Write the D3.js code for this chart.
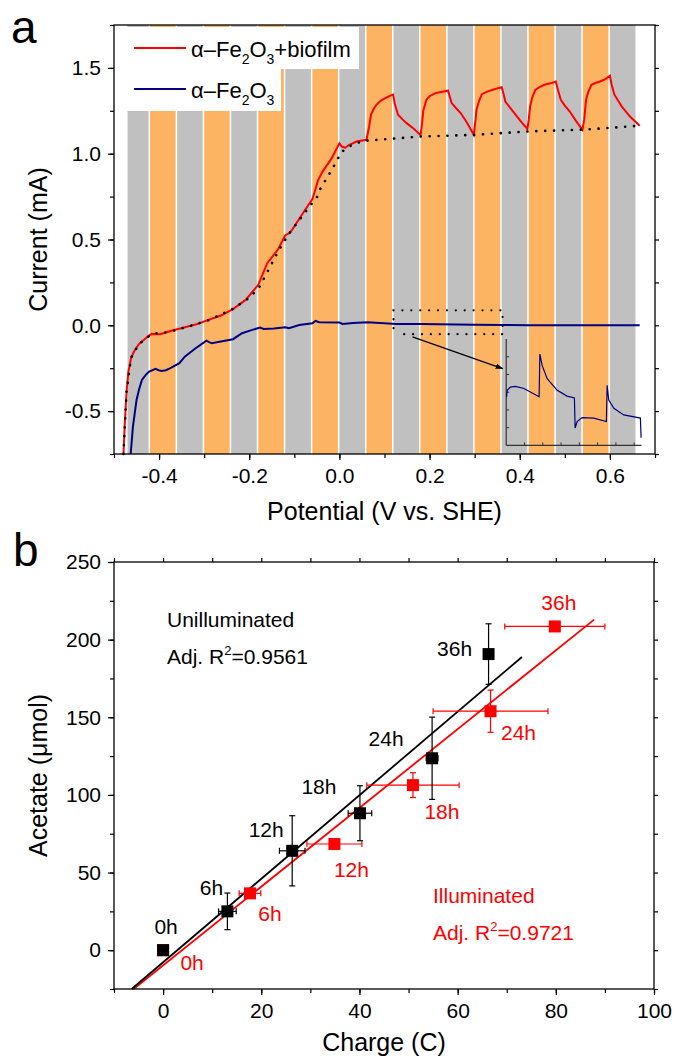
<!DOCTYPE html>
<html>
<head>
<meta charset="utf-8">
<script src="https://cdn.jsdelivr.net/npm/d3@7"></script>
<style>
body { margin: 0; background: #fff; }
text { font-family: "Liberation Sans", Arial, sans-serif; }
</style>
</head>
<body>
<div id="chart"></div>
<script>
// ---------- panel a data ----------
// potential (V) where illumination toggles, starting with a dark (grey) period
var stripeEdges = [-0.47,-0.42,-0.36,-0.30,-0.24,-0.18,-0.12,-0.06,0,0.06,0.12,0.18,0.24,0.30,0.36,0.42,0.48,0.54,0.60,0.66];

// alpha-Fe2O3 + biofilm, [potential V, current mA]
var biofilm = [[-0.479,-0.75],[-0.476,-0.57],[-0.472,-0.38],[-0.468,-0.27],[-0.462,-0.19],[-0.455,-0.15],[-0.445,-0.11],
  [-0.434,-0.085],[-0.424,-0.063],[-0.416,-0.05],[-0.405,-0.052],[-0.398,-0.052],[-0.385,-0.042],[-0.375,-0.033],
  [-0.351,-0.017],[-0.33,-0.003],[-0.315,0.008],[-0.295,0.027],[-0.263,0.057],[-0.236,0.094],[-0.208,0.148],
  [-0.18,0.236],[-0.17,0.30],[-0.16,0.362],[-0.136,0.443],[-0.12,0.525],[-0.112,0.535],[-0.105,0.556],[-0.081,0.653],
  [-0.06,0.735],[-0.047,0.848],[-0.037,0.897],[-0.017,0.974],[0.0,1.06],[0.006,1.04],[0.013,1.035],[0.022,1.052],
  [0.038,1.071],[0.06,1.081],
  [0.066,1.16],[0.07,1.227],[0.076,1.26],[0.082,1.285],[0.092,1.31],[0.102,1.324],[0.112,1.337],[0.119,1.344],
  [0.123,1.29],[0.13,1.227],[0.14,1.2],[0.149,1.178],[0.165,1.145],[0.18,1.108],
  [0.183,1.17],[0.186,1.25],[0.193,1.315],[0.2,1.335],[0.213,1.353],[0.225,1.36],[0.241,1.367],
  [0.245,1.33],[0.249,1.295],[0.259,1.265],[0.269,1.237],[0.283,1.18],[0.298,1.11],
  [0.302,1.2],[0.304,1.256],[0.31,1.31],[0.316,1.347],[0.328,1.362],[0.34,1.373],[0.36,1.388],
  [0.364,1.35],[0.368,1.304],[0.378,1.27],[0.388,1.237],[0.402,1.19],[0.417,1.143],
  [0.42,1.2],[0.423,1.276],[0.428,1.33],[0.435,1.373],[0.445,1.39],[0.455,1.402],[0.468,1.41],[0.48,1.421],
  [0.485,1.37],[0.491,1.314],[0.5,1.28],[0.511,1.246],[0.525,1.19],[0.539,1.139],
  [0.543,1.2],[0.547,1.314],[0.552,1.36],[0.559,1.402],[0.568,1.412],[0.578,1.421],[0.59,1.435],[0.6,1.454],
  [0.604,1.4],[0.61,1.344],[0.618,1.31],[0.626,1.276],[0.645,1.215],[0.666,1.163]];

// dark-current baseline of the biofilm electrode (dotted)
var biofilmDark = [[-0.479,-0.75],[-0.472,-0.38],[-0.462,-0.19],[-0.445,-0.11],[-0.416,-0.05],[-0.38,-0.04],
  [-0.33,-0.003],[-0.29,0.03],[-0.24,0.09],[-0.2,0.16],[-0.178,0.22],[-0.168,0.27],[-0.15,0.36],[-0.136,0.43],
  [-0.113,0.53],[-0.09,0.61],[-0.07,0.68],[-0.049,0.75],[-0.042,0.797],[-0.03,0.849],[-0.018,0.901],
  [-0.007,0.953],[0.004,1.008],[0.02,1.04],[0.041,1.064],[0.061,1.076],[0.18,1.1],[0.3,1.11],[0.42,1.13],
  [0.54,1.14],[0.666,1.163]];

// bare alpha-Fe2O3
var bare = [[-0.463,-0.75],[-0.458,-0.59],[-0.45,-0.435],[-0.444,-0.37],[-0.438,-0.318],[-0.43,-0.29],
  [-0.422,-0.27],[-0.408,-0.254],[-0.401,-0.262],[-0.394,-0.266],[-0.385,-0.262],[-0.375,-0.25],[-0.355,-0.221],
  [-0.343,-0.183],[-0.319,-0.134],[-0.295,-0.089],[-0.289,-0.098],[-0.283,-0.105],[-0.263,-0.095],
  [-0.236,-0.081],[-0.216,-0.046],[-0.195,-0.028],[-0.176,-0.013],[-0.168,-0.021],[-0.145,-0.018],
  [-0.12,-0.011],[-0.112,-0.017],[-0.089,0.002],[-0.06,0.012],[-0.053,0.026],[-0.045,0.018],[0.0,0.016],
  [0.007,0.008],[0.03,0.014],[0.062,0.018],[0.09,0.013],[0.126,0.008],[0.18,0.008],[0.26,0.004],[0.3,0.003],
  [0.36,0.002],[0.42,0.001],[0.54,0.0],[0.666,0.0]];

// inset: zoom of bare electrode between 0.12 and 0.36 V (arbitrary units)
var insetCurve = [[0.02,2.74],[0.05,3.11],[0.23,3.29],[0.51,3.33],[0.97,3.21],[1.80,2.74],[1.84,5.15],[1.97,4.5],
  [2.24,3.76],[2.79,3.11],[3.33,2.78],[3.73,2.68],[3.77,0.98],[3.88,1.35],[4.15,1.57],[4.79,1.54],[5.48,1.35],
  [5.52,3.39],[5.61,2.56],[5.89,2.09],[6.43,1.72],[7.34,1.54],[7.38,0.43]];

var xTicksA = [-0.4,-0.2,0.0,0.2,0.4,0.6];
var yTicksA = [-0.5,0.0,0.5,1.0,1.5];

// ---------- panel b data ----------
var hours = ["0h","6h","12h","18h","24h","36h"];
var darkCharge = [0,13.1,26.3,40.1,54.8,66.3];
var darkChargeErr = [0,1.8,2.6,2.4,1.2,0.5];
var darkAcetate = [0,25,64,88.2,123.6,190.7];
var darkAcetateErr = [0,11.8,22.6,17.7,26.5,19.5];
var lightCharge = [0,17.7,34.9,50.9,66.7,79.8];
var lightChargeErr = [0,2.2,5.6,9.4,11.7,10.2];
var lightAcetate = [0,36.6,68.4,106.3,153.9,208.5];
var lightAcetateErr = [0,2,2,8,13.6,2];
// linear fits: [slope, intercept, xStart, xEnd]
var darkFit = [2.69,-7.8,-6.4,73.1];
var lightFit = [2.536,-9.8,-6.0,87.8];
var xTicksB = [0,20,40,60,80,100];
var yTicksB = [0,50,100,150,200,250];

// ---------- drawing ----------
var svg = d3.select("#chart").append("svg")
    .attr("width", 677)
    .attr("height", 1060);

var RED = "#ff0000", NAVY = "#000080";

function styleAxis(g) {
  g.select(".domain").remove();
  g.selectAll("line").attr("stroke", "#000").attr("stroke-width", 1.2);
  g.selectAll("text").attr("font-size", 21).attr("fill", "#000")
    .attr("font-family", '"Liberation Sans", Arial, sans-serif');
}

// ===== panel a =====
var xa = d3.scaleLinear().domain([-0.5, 0.7]).range([114, 655]);
var ya = d3.scaleLinear().domain([-0.75, 1.75]).range([454, 25]);

var pa = svg.append("g");

// illumination stripes
stripeEdges.slice(0, -1).forEach(function(s, i) {
  pa.append("rect")
    .attr("x", xa(s))
    .attr("y", ya(1.75))
    .attr("width", xa(stripeEdges[i + 1]) - xa(s) - 1.5)
    .attr("height", ya(-0.75) - ya(1.75))
    .attr("fill", i % 2 == 0 ? "#c0c0c0" : "#fdb462");
});

var lineA = d3.line().x(function(d){ return xa(d[0]) }).y(function(d){ return ya(d[1]) });

pa.append("path").datum(biofilm).attr("d", lineA)
  .attr("fill", "none").attr("stroke", RED).attr("stroke-width", 2);
pa.append("path").datum(biofilmDark).attr("d", lineA)
  .attr("fill", "none").attr("stroke", "#000").attr("stroke-width", 2.6)
  .attr("stroke-linecap", "round").attr("stroke-dasharray", "0.1,8.8");
pa.append("path").datum(bare).attr("d", lineA)
  .attr("fill", "none").attr("stroke", NAVY).attr("stroke-width", 2);

// dotted zoom box
var zb = d3.path();
zb.moveTo(xa(0.12), ya(-0.017)); zb.lineTo(xa(0.12), ya(0.087)); zb.lineTo(xa(0.362), ya(0.087));
zb.lineTo(xa(0.362), ya(-0.052)); zb.lineTo(xa(0.135), ya(-0.052));
pa.append("path").attr("d", zb.toString()).attr("fill", "none").attr("stroke", "#000")
  .attr("stroke-width", 2.2).attr("stroke-linecap", "round").attr("stroke-dasharray", "0.1,8.8");

// arrow
svg.append("defs").append("marker").attr("id", "arr")
  .attr("viewBox", "0 0 10 10").attr("refX", 9).attr("refY", 5)
  .attr("markerWidth", 6).attr("markerHeight", 6).attr("orient", "auto")
  .append("path").attr("d", "M0,1.5L10,5L0,8.5z").attr("fill", "#000");
pa.append("line").attr("x1", xa(0.162)).attr("y1", ya(-0.068))
  .attr("x2", xa(0.362)).attr("y2", ya(-0.252))
  .attr("stroke", "#000").attr("stroke-width", 1.3).attr("marker-end", "url(#arr)");

// inset
var xi = d3.scaleLinear().domain([0, 7.4]).range([xa(0.37), xa(0.67)]);
var yi = d3.scaleLinear().domain([0, 6]).range([ya(-0.70), ya(-0.08)]);
var ins = pa.append("g");
ins.append("line").attr("x1", xi(0)).attr("x2", xi(0)).attr("y1", yi(0)).attr("y2", yi(6))
  .attr("stroke", "#333").attr("stroke-width", 1.2);
ins.append("line").attr("x1", xi(0)).attr("x2", xi(7.4)).attr("y1", yi(0)).attr("y2", yi(0))
  .attr("stroke", "#333").attr("stroke-width", 1.2);
d3.range(1, 6).forEach(function(v) {
  ins.append("line").attr("x1", xi(0)).attr("x2", xi(0) + 3).attr("y1", yi(v)).attr("y2", yi(v))
    .attr("stroke", "#333").attr("stroke-width", 1);
});
d3.range(1, 8).forEach(function(u) {
  ins.append("line").attr("x1", xi(u)).attr("x2", xi(u)).attr("y1", yi(0)).attr("y2", yi(0) - 3)
    .attr("stroke", "#333").attr("stroke-width", 1);
});
ins.append("path").datum(insetCurve)
  .attr("d", d3.line().x(function(d){ return xi(d[0]) }).y(function(d){ return yi(d[1]) }))
  .attr("fill", "none").attr("stroke", NAVY).attr("stroke-width", 1.2);

// legend
var leg = pa.append("g");
leg.append("rect").attr("x", 126).attr("y", 27).attr("width", 233).attr("height", 42).attr("fill", "#fff");
leg.append("rect").attr("x", 126).attr("y", 69).attr("width", 155).attr("height", 42).attr("fill", "#fff");
[[RED, 48, "+biofilm"], [NAVY, 89, ""]].forEach(function(r) {
  leg.append("line").attr("x1", 134).attr("x2", 186).attr("y1", r[1]).attr("y2", r[1])
    .attr("stroke", r[0]).attr("stroke-width", 2);
  var t = leg.append("text").attr("x", 191).attr("y", r[1] + 9).attr("font-size", 22);
  t.append("tspan").text("α–Fe");
  t.append("tspan").attr("font-size", 14).attr("dy", 7).text("2");
  t.append("tspan").attr("dy", -7).text("O");
  t.append("tspan").attr("font-size", 14).attr("dy", 7).text("3");
  t.append("tspan").attr("dy", -7).text(r[2]);
});

// axes a
pa.append("rect").attr("x", xa(-0.5)).attr("y", ya(1.75))
  .attr("width", xa(0.7) - xa(-0.5)).attr("height", ya(-0.75) - ya(1.75))
  .attr("fill", "none").attr("stroke", "#000").attr("stroke-width", 1.3);

pa.append("g").attr("transform", "translate(0," + ya(-0.75) + ")")
  .call(d3.axisBottom(xa).tickValues(d3.range(-5, 8).map(function(d){ return d / 10 }))
    .tickSize(4).tickFormat(""))
  .call(styleAxis);
pa.append("g").attr("transform", "translate(0," + ya(-0.75) + ")")
  .call(d3.axisBottom(xa).tickValues(xTicksA).tickSize(6).tickPadding(8)
    .tickFormat(function(d){ return d.toFixed(1) }))
  .call(styleAxis);
pa.append("g").attr("transform", "translate(" + xa(-0.5) + ",0)")
  .call(d3.axisLeft(ya).tickValues(d3.range(-3, 8).map(function(d){ return d / 4 }))
    .tickSize(4).tickFormat(""))
  .call(styleAxis);
pa.append("g").attr("transform", "translate(" + xa(-0.5) + ",0)")
  .call(d3.axisLeft(ya).tickValues(yTicksA).tickSize(6).tickPadding(7)
    .tickFormat(function(d){ return d.toFixed(1) }))
  .call(styleAxis);
pa.append("g").attr("transform", "translate(" + xa(0.7) + ",0)")
  .call(d3.axisRight(ya).tickValues(d3.range(-3, 8).map(function(d){ return d / 4 }))
    .tickSize(4).tickFormat(""))
  .call(styleAxis);

pa.append("text").attr("x", (xa(-0.5) + xa(0.7)) / 2).attr("y", 520)
  .attr("text-anchor", "middle").attr("font-size", 25).text("Potential (V vs. SHE)");
pa.append("text").attr("transform", "translate(47," + (ya(-0.75) + ya(1.75)) / 2 + ") rotate(-90)")
  .attr("text-anchor", "middle").attr("font-size", 25).text("Current (mA)");
svg.append("text").attr("x", 11).attr("y", 43).attr("font-size", 46).text("a");

// ===== panel b =====
var xb = d3.scaleLinear().domain([-10, 100]).range([114, 654]);
var yb = d3.scaleLinear().domain([-25, 250]).range([989, 562]);
var pb = svg.append("g");

function fitLine(f, color) {
  pb.append("line")
    .attr("x1", xb(f[2])).attr("y1", yb(f[0] * f[2] + f[1]))
    .attr("x2", xb(f[3])).attr("y2", yb(f[0] * f[3] + f[1]))
    .attr("stroke", color).attr("stroke-width", 1.8);
}
fitLine(lightFit, RED);
fitLine(darkFit, "#000");

function series(xs, xe, ys, ye, color) {
  var g = pb.append("g").attr("stroke", color).attr("stroke-width", 1.2);
  xs.forEach(function(x, i) {
    var cx = xb(x), cy = yb(ys[i]);
    if (ye[i] > 0) {
      g.append("line").attr("x1", cx).attr("x2", cx).attr("y1", yb(ys[i] - ye[i])).attr("y2", yb(ys[i] + ye[i]));
      [ys[i] - ye[i], ys[i] + ye[i]].forEach(function(v) {
        g.append("line").attr("x1", cx - 3).attr("x2", cx + 3).attr("y1", yb(v)).attr("y2", yb(v));
      });
    }
    if (xe[i] > 0) {
      g.append("line").attr("y1", cy).attr("y2", cy).attr("x1", xb(x - xe[i])).attr("x2", xb(x + xe[i]));
      [x - xe[i], x + xe[i]].forEach(function(v) {
        g.append("line").attr("y1", cy - 3).attr("y2", cy + 3).attr("x1", xb(v)).attr("x2", xb(v));
      });
    }
  });
  pb.selectAll(null).data(xs).enter().append("rect")
    .attr("x", function(d){ return xb(d) - 6 })
    .attr("y", function(d, i){ return yb(ys[i]) - 6 })
    .attr("width", 12).attr("height", 12).attr("fill", color);
}
series(lightCharge, lightChargeErr, lightAcetate, lightAcetateErr, RED);
series(darkCharge, darkChargeErr, darkAcetate, darkAcetateErr, "#000");

// time labels (offsets in px from each point)
var darkLabelOff = [[3,-24],[-16,-24],[-26,-21],[-41,-27],[-46,-20],[-34,-5]];
var lightLabelOff = [[29,12],[20,20],[17,26],[29,27],[28,21],[4,-24]];
hours.forEach(function(h, i) {
  pb.append("text").attr("x", xb(darkCharge[i]) + darkLabelOff[i][0])
    .attr("y", yb(darkAcetate[i]) + darkLabelOff[i][1]).attr("dy", "0.35em")
    .attr("text-anchor", "middle").attr("font-size", 21).text(h);
  pb.append("text").attr("x", xb(lightCharge[i]) + lightLabelOff[i][0])
    .attr("y", yb(lightAcetate[i]) + lightLabelOff[i][1]).attr("dy", "0.35em")
    .attr("text-anchor", "middle").attr("font-size", 21).attr("fill", RED).text(h);
});

function fitNote(x, y, title, r2, color) {
  pb.append("text").attr("x", x).attr("y", y).attr("font-size", 21).attr("fill", color).text(title);
  var t = pb.append("text").attr("x", x).attr("y", y + 37).attr("font-size", 21).attr("fill", color);
  t.append("tspan").text("Adj. R");
  t.append("tspan").attr("font-size", 13).attr("dy", -9).text("2");
  t.append("tspan").attr("dy", 9).text("=" + r2);
}
fitNote(167, 627, "Unilluminated", "0.9561", "#000");
fitNote(433, 903, "Illuminated", "0.9721", RED);

// axes b
pb.append("rect").attr("x", xb(-10)).attr("y", yb(250))
  .attr("width", xb(100) - xb(-10)).attr("height", yb(-25) - yb(250))
  .attr("fill", "none").attr("stroke", "#000").attr("stroke-width", 1.3);
var xMinorB = d3.range(-10, 101, 10), yMinorB = d3.range(-25, 251, 25);
pb.append("g").attr("transform", "translate(0," + yb(-25) + ")")
  .call(d3.axisBottom(xb).tickValues(xMinorB).tickSize(4).tickFormat("")).call(styleAxis);
pb.append("g").attr("transform", "translate(0," + yb(-25) + ")")
  .call(d3.axisBottom(xb).tickValues(xTicksB).tickSize(6).tickPadding(8)).call(styleAxis);
pb.append("g").attr("transform", "translate(0," + yb(250) + ")")
  .call(d3.axisTop(xb).tickValues(xMinorB).tickSize(4).tickFormat("")).call(styleAxis);
pb.append("g").attr("transform", "translate(" + xb(-10) + ",0)")
  .call(d3.axisLeft(yb).tickValues(yMinorB).tickSize(4).tickFormat("")).call(styleAxis);
pb.append("g").attr("transform", "translate(" + xb(-10) + ",0)")
  .call(d3.axisLeft(yb).tickValues(yTicksB).tickSize(6).tickPadding(7)).call(styleAxis);
pb.append("g").attr("transform", "translate(" + xb(100) + ",0)")
  .call(d3.axisRight(yb).tickValues(yMinorB).tickSize(4).tickFormat("")).call(styleAxis);

pb.append("text").attr("x", (xb(-10) + xb(100)) / 2).attr("y", 1051)
  .attr("text-anchor", "middle").attr("font-size", 25).text("Charge (C)");
pb.append("text").attr("transform", "translate(47," + (yb(-25) + yb(250)) / 2 + ") rotate(-90)")
  .attr("text-anchor", "middle").attr("font-size", 25).text("Acetate (μmol)");
svg.append("text").attr("x", 13).attr("y", 566).attr("font-size", 46).text("b");
</script>
</body>
</html>
